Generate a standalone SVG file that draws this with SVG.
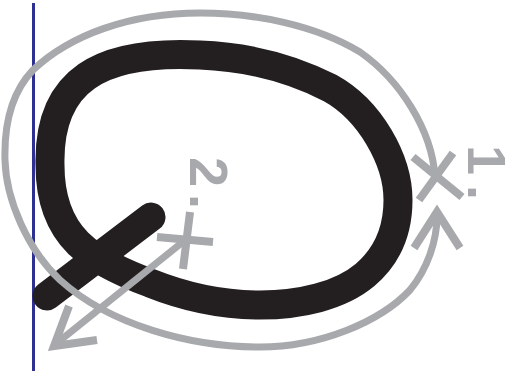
<svg xmlns="http://www.w3.org/2000/svg" width="520" height="371" viewBox="0 0 520 371">
<style>
.ink{fill:none;stroke:#231f20;stroke-width:29;stroke-linecap:round;stroke-linejoin:round}
.guide{fill:none;stroke:#a7a9ac;stroke-width:7}
.mark{fill:none;stroke:#a7a9ac;stroke-width:8;stroke-linecap:butt;stroke-linejoin:miter;stroke-miterlimit:10}
.num{font-family:"Liberation Sans",Arial,sans-serif;font-weight:bold;font-size:54px;fill:#a7a9ac}
</style>
<rect width="520" height="371" fill="#ffffff"/>
<line x1="33.5" y1="3" x2="33.5" y2="371" stroke="#2e3192" stroke-width="3"/>
<g id="letter">
<path class="ink" d="M50,165 C48,80 100,50 200,55 C250,57 295,70 330,88 C370,110 398,160 398,200 C398,235 385,258 365,275 C340,296 300,305 260,305 C215,305 180,295 150,283 C115,270 93,258 78,243 C60,225 50,200 50,165 Z"/>
<line class="ink" x1="151" y1="217" x2="47" y2="296"/>
</g>
<g id="connectors">
<path class="guide" d="M435,177 C432,130 400,80 360,52 C315,25 255,13 200,13 C130,13 70,35 33,70 C12,92 4,125 5,160 C6,200 28,250 60,280 C110,325 190,347 260,347 C320,347 380,322 410,290 C428,268 437,240 437,216"/>
<polyline class="mark" points="414,248 437,212 460,248"/>
<line class="guide" x1="184" y1="241" x2="57" y2="343"/>
<polyline class="mark" points="69,306 54,346 97,340"/>
</g>
<g id="start1">
<line class="mark" x1="413" y1="157" x2="462" y2="197"/>
<line class="mark" x1="453" y1="153" x2="419" y2="200"/>
<text class="num" transform="translate(468,145) rotate(90)" font-size="64" letter-spacing="10">1.</text>
</g>
<g id="start2">
<line class="mark" x1="190" y1="212" x2="183" y2="269"/>
<line class="mark" x1="157" y1="237" x2="213" y2="242"/>
<text class="num" transform="translate(190,157) rotate(90)" letter-spacing="7">2.</text>
</g>
</svg>
